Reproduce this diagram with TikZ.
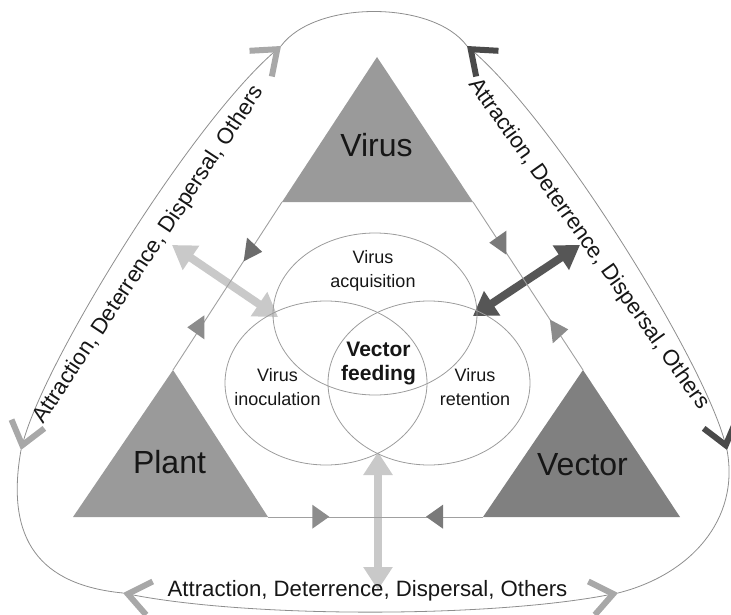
\documentclass[tikz,border=0pt]{standalone}
\usepackage{fontspec}
\setmainfont{Liberation Sans}
\usepackage{xcolor}
\usetikzlibrary{arrows.meta}

\definecolor{ink}{HTML}{161616}
\definecolor{triLight}{HTML}{9A9A9A}
\definecolor{triDark}{HTML}{808080}
\definecolor{wiregray}{HTML}{A0A0A0}
\definecolor{loopgray}{HTML}{8E8E8E}
\definecolor{ringgray}{HTML}{9C9C9C}
\definecolor{barLight}{HTML}{C9C9C9}
\definecolor{barDark}{HTML}{565656}
\definecolor{chevLight}{HTML}{A8A8A8}
\definecolor{chevDark}{HTML}{4A4A4A}
\definecolor{markDark}{HTML}{6C6C6C}
\definecolor{markMid}{HTML}{7A7A7A}
\definecolor{markLight}{HTML}{8C8C8C}

\tikzset{flag/.pic={\fill (11,0) -- (-6,12) -- (-6,-12) -- cycle;}}

\begin{document}
\begin{tikzpicture}[x=1pt, y=-1pt, font=\fontsize{18}{24}\selectfont, text=ink,
  wire/.style={wiregray, line width=0.9pt},
  loopline/.style={loopgray, line width=0.8pt},
  softpair/.style={loopline, arrows={Straight Barb[length=22pt,width=34pt,line width=6pt 0,color=chevLight]-Straight Barb[length=22pt,width=34pt,line width=6pt 0,color=chevLight]}},
  hardpair/.style={loopline, arrows={Straight Barb[length=22pt,width=34pt,line width=6pt 0,color=chevDark]-Straight Barb[length=22pt,width=34pt,line width=6pt 0,color=chevDark]}},
  ring/.style={ringgray, line width=0.8pt},
  bar/.style={line width=8pt, arrows={Triangle[length=23pt,width=28pt]-Triangle[length=23pt,width=28pt]}},
  bigname/.style={font=\fontsize{32}{36}\selectfont, anchor=base, inner sep=0pt},
  stage/.style={align=center, inner sep=0pt},
  sidenote/.style={font=\fontsize{22.2}{26}\selectfont, inner sep=0pt}]
\useasboundingbox (0,0) rectangle (731,615);
% corners of the outer loop
\coordinate (cTL) at (281,46);
\coordinate (cTR) at (467,46);
\coordinate (cL) at (21,450);
\coordinate (cR) at (727,450);
\coordinate (cBL) at (123,593);
\coordinate (cBR) at (618,593);
% outer loop
\draw[softpair] (cL) .. controls (45,360) and (190,125) .. (cTL);
\draw[hardpair] (cTR) .. controls (558,125) and (703,360) .. (cR);
\draw[softpair] (cBL) .. controls (250,618) and (490,618) .. (cBR);
\draw[loopline] (cTL) .. controls (315,0) and (433,0) .. (cTR);
\draw[loopline] (cL) .. controls (5,540) and (40,585) .. (cBL);
\draw[loopline] (cBR) .. controls (690,575) and (740,520) .. (cR);
% thick double arrows
\coordinate (plantEnd) at (172,245);
\coordinate (acqL) at (278,317);
\coordinate (vectorEnd) at (580,245);
\coordinate (acqR) at (473,316);
\coordinate (feedLow) at (378,452);
\coordinate (loopLow) at (378,590);
\draw[bar, barLight] (plantEnd) -- (acqL);
\draw[bar, barDark] (vectorEnd) -- (acqR);
\draw[bar, barLight] (feedLow) -- (loopLow);
% the three players
\coordinate (virusTop) at (377,57);
\coordinate (virusL) at (282,202);
\coordinate (virusR) at (473,202);
\coordinate (plantTop) at (173,370);
\coordinate (plantL) at (73,517);
\coordinate (plantR) at (268,517);
\coordinate (vectorTop) at (583,370);
\coordinate (vectorL) at (483,517);
\coordinate (vectorR) at (680,517);
\fill[triLight] (virusTop) -- (virusR) -- (virusL) -- cycle;
\fill[triLight] (plantTop) -- (plantR) -- (plantL) -- cycle;
\fill[triDark] (vectorTop) -- (vectorR) -- (vectorL) -- cycle;
\draw[wire] (virusL) -- (plantTop);
\draw[wire] (virusR) -- (vectorTop);
\draw[wire] (plantR) -- (vectorL);
% direction marks on the sides
\foreach \x/\y/\a/\c in {251.3/250.3/-8/markDark, 198.3/327.3/180/markLight,
    500.3/242.7/180/markMid, 557.3/330.7/7/markLight,
    318.3/516.7/0/markLight, 437/516.7/180/markMid}
  \pic[\c, rotate=\a] at (\x,\y) {flag};
% feeding stages
\draw[ring] (375,314) ellipse [x radius=102, y radius=81];
\draw[ring] (326,383) ellipse [x radius=101, y radius=82];
\draw[ring] (429,383) ellipse [x radius=101, y radius=82];
\node[bigname] (virus) at (376.5,157) {Virus};
\node[bigname] (plant) at (169.5,473) {Plant};
\node[bigname] (vector) at (582.5,475) {Vector};
\node[stage] (acq) at (373,270.5) {Virus\\acquisition};
\node[stage] (inoc) at (277.5,387.5) {Virus\\inoculation};
\node[stage] (ret) at (475,387.5) {Virus\\retention};
\node[stage, font=\fontsize{21}{24}\selectfont\bfseries] (feed) at (378.5,363.7) {Vector\\feeding};
% labels on the loop
\node[sidenote, rotate=56.5] (leftnote) at (149,255) {Attraction, Deterrence, Dispersal, Others};
\node[sidenote, rotate=-54.6] (rightnote) at (588.5,244) {Attraction, Deterrence, Dispersal, Others};
\node[sidenote, anchor=base] (lownote) at (367.5,596) {Attraction, Deterrence, Dispersal, Others};
\end{tikzpicture}
\end{document}
